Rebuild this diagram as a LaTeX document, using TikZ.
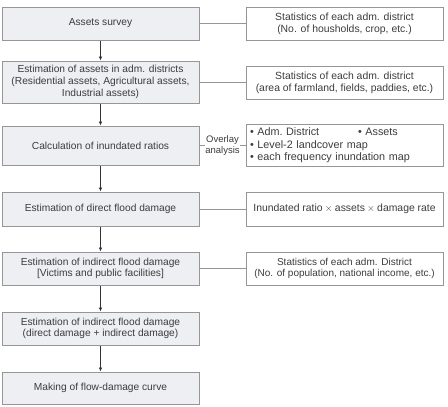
\documentclass[tikz,border=0pt]{standalone}
\usepackage{fontspec}
\setmainfont{Liberation Sans}
\usetikzlibrary{positioning,calc,arrows.meta}
\definecolor{stepgrey}{RGB}{237,239,243}
\definecolor{edgegrey}{RGB}{150,150,150}
\definecolor{textgrey}{RGB}{60,60,60}
\begin{document}
\begin{tikzpicture}[x=1pt, y=1pt, >={Latex[length=4pt,width=3.5pt]}, line width=1pt]

% box styles
\tikzset{stepbox/.style={draw=edgegrey, fill=stepgrey, minimum width=197pt, inner sep=1pt,
                         align=center, text=textgrey, font=\fontsize{10.2}{11.7}\selectfont},
         databox/.style={draw=edgegrey, fill=white, minimum width=197pt, inner sep=1pt,
                         align=center, text=textgrey, font=\fontsize{10.4}{11.8}\selectfont},
         link/.style={draw=edgegrey, line width=0.8pt}}

\useasboundingbox (0,0) rectangle (448,-407);

% -----------------------------------------
% main steps (left column)
% -----------------------------------------
\node[stepbox, minimum height=33pt] (survey) at (100.5,-23.5) {Assets survey};
\node[stepbox, minimum height=42pt] (assets) at (100.5,-82) {Estimation of assets in adm. districts\\(Residential assets, Agricultural assets,\\Industrial assets)};
\node[stepbox, minimum height=39pt] (ratio) at (100.5,-145.5) {Calculation of inundated ratios};
\node[stepbox, minimum height=34pt] (direct) at (100.5,-209) {Estimation of direct flood damage};
\node[stepbox, minimum height=33pt] (indirect) at (100.5,-268.5) {Estimation of indirect flood damage\\{[}Victims and public facilities{]}};
\node[stepbox, minimum height=33pt] (total) at (100.5,-328.5) {Estimation of indirect flood damage\\(direct damage + indirect damage)};
\node[stepbox, minimum height=32pt] (curve) at (100.5,-388) {Making of flow-damage curve};

\draw[->, black!80, line width=0.7pt] (survey) -- (assets);
\draw[->, black!80, line width=0.7pt] (assets) -- (ratio);
\draw[->, black!80, line width=0.7pt] (ratio) -- (direct);
\draw[->, black!80, line width=0.7pt] (direct) -- (indirect);
\draw[->, black!80, line width=0.7pt] (indirect) -- (total);
\draw[->, black!80, line width=0.7pt] (total) -- (curve);

% -----------------------------------------
% input data (right column)
% -----------------------------------------
\node[databox, minimum height=33pt] (stat1) at (344.5,-23.5) {Statistics of each adm. district\\(No. of housholds, crop, etc.)};
\node[databox, minimum height=33pt] (stat2) at (344.5,-82.5) {Statistics of each adm. district\\(area of farmland, fields, paddies, etc.)};
\node[databox, minimum height=39pt, align=left, text width=189pt, inner sep=4pt,
      font=\fontsize{10.8}{12.4}\selectfont] (maps) at (344.5,-145.5)
  {\textbullet\ Adm.\ District\hspace{3.6em}\textbullet\ Assets\\\textbullet\ Level-2 landcover map\\\textbullet\ each frequency inundation map};
\node[databox, minimum height=34pt] (rate) at (344.5,-209) {Inundated ratio${}\times{}$assets${}\times{}$damage rate};
\node[databox, minimum height=33pt, font=\fontsize{10}{11.6}\selectfont] (stat3) at (344.5,-268.5) {Statistics of each adm. District\\(No. of population, national income, etc.)};

\draw[link] (survey) -- (stat1);
\draw[link] (assets.east |- stat2) -- (stat2);
\draw[link] (ratio) -- (maps)
  node[midway, fill=white, inner sep=0.5pt, align=center, text=textgrey,
       font=\fontsize{9.5}{11.5}\selectfont] {Overlay\\analysis};
\draw[link] (direct) -- (rate);
\draw[link] (indirect) -- (stat3);
\end{tikzpicture}
\end{document}
